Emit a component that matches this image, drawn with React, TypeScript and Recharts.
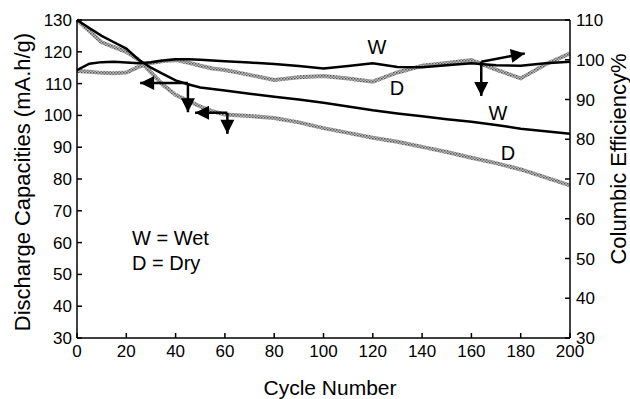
import { LineChart, Line, XAxis, YAxis, ReferenceLine, ReferenceDot } from 'recharts'

// ciclos e leituras (estimadas do gráfico original)
const cycles = [0, 5, 10, 15, 20, 25, 30, 35, 40, 45, 50, 55, 60, 70, 80, 90, 100, 110, 120, 130, 140, 150, 160, 170, 180, 190, 200]
const wetCapacity = [130, 127.5, 125, 123, 121, 117.5, 115, 113, 111, 109.8, 108.8, 108.3, 107.8, 106.8, 105.9, 105, 104, 102.8, 101.6, 100.6, 99.7, 98.8, 98, 97, 95.8, 95, 94.2]
const dryCapacity = [130, 126.5, 123, 121.5, 120, 117.5, 113.5, 109.5, 106.5, 104.6, 102.8, 101.3, 100.3, 99.8, 99.2, 97.8, 96, 94.5, 93, 91.7, 90.1, 88.5, 86.7, 85, 83, 80.5, 78]
const wetEfficiency = [97.4, 99, 99.4, 99.5, 99.3, 99.1, 99.4, 99.8, 100.1, 100.1, 100, 99.8, 99.6, 99.3, 98.9, 98.4, 97.8, 98.4, 99.1, 98.2, 98.1, 98.6, 99.1, 98.6, 98.5, 99.1, 99.5]
const dryEfficiency = [97.2, 97, 96.7, 96.6, 96.8, 98.2, 99.2, 99.7, 99.9, 99.3, 98.5, 97.8, 97.4, 96.2, 94.9, 95.6, 95.9, 95.3, 94.5, 96.8, 98.5, 99.2, 99.9, 97.5, 95.3, 98.8, 101.6]

const xTicks = [0, 20, 40, 60, 80, 100, 120, 140, 160, 180, 200]
const capTicks = [30, 40, 50, 60, 70, 80, 90, 100, 110, 120, 130]
const effTicks = [30, 40, 50, 60, 70, 80, 90, 100, 110]

const data = cycles.map((c, i) => ({
  cycle: c,
  wetCap: wetCapacity[i],
  dryCap: dryCapacity[i],
  wetEff: wetEfficiency[i],
  dryEff: dryEfficiency[i],
}))

const FONT = '"Liberation Sans", Arial, sans-serif'
const tick = { fill: '#000', fontSize: 17, fontFamily: FONT }

// ponta de seta: aponta pra direção dada (graus, 0 = direita)
const head = (ang: number) => (p: any) => (
  <polygon
    points="0,0 -14,-7 -14,7"
    fill="#000"
    transform={`translate(${p.cx},${p.cy}) rotate(${ang})`}
  />
)

const txt = (left: number, top: number, size: number): React.CSSProperties => ({
  position: 'absolute', left, top, fontSize: size, fontFamily: FONT, color: '#000',
  lineHeight: 1, whiteSpace: 'nowrap', transform: 'translate(-50%, -50%)',
})

export default function App() {
  return (
    <div style={{ position: 'absolute', left: 0, top: 0, width: 630, height: 399, background: '#fff', overflow: 'hidden' }}>
      <style>{'body{margin:0}'}</style>
      <LineChart width={630} height={399} data={data} margin={{ top: 20, right: 0, bottom: 31, left: 0 }}>
        <defs>
          <pattern id="grayTex" width="3" height="3" patternUnits="userSpaceOnUse">
            <rect width="3" height="3" fill="#bcbcbc" />
            <rect width="1.5" height="1.5" fill="#5a5a5a" />
            <rect x="1.5" y="1.5" width="1.5" height="1.5" fill="#7a7a7a" />
          </pattern>
        </defs>
        <XAxis
          dataKey="cycle" type="number" domain={[0, 200]} ticks={xTicks} interval={0}
          tickSize={-5} tickMargin={12} height={30} stroke="#000" strokeWidth={1.5} tick={tick}
        />
        <YAxis
          yAxisId="cap" domain={[30, 130]} ticks={capTicks} interval={0} width={77}
          tickSize={-5} tickMargin={10} stroke="#000" strokeWidth={1.5} tick={tick}
        />
        <YAxis
          yAxisId="eff" orientation="right" domain={[30, 110]} ticks={effTicks} interval={0} width={60}
          tickSize={-5} tickMargin={11} stroke="#000" strokeWidth={1.5} tick={tick}
        />
        <ReferenceLine yAxisId="cap" y={130} stroke="#000" strokeWidth={1.5} />

        <Line yAxisId="eff" dataKey="dryEff" stroke="url(#grayTex)" strokeWidth={4} dot={false} isAnimationActive={false} />
        <Line yAxisId="cap" dataKey="dryCap" stroke="url(#grayTex)" strokeWidth={4} dot={false} isAnimationActive={false} />
        <Line yAxisId="eff" dataKey="wetEff" stroke="#000" strokeWidth={2.5} dot={false} isAnimationActive={false} />
        <Line yAxisId="cap" dataKey="wetCap" stroke="#000" strokeWidth={2.5} dot={false} isAnimationActive={false} />

        {/* seta W (capacidade) */}
        <ReferenceLine yAxisId="cap" segment={[{ x: 45, y: 110.2 }, { x: 25.6, y: 110.2 }]} stroke="#000" strokeWidth={2.5} />
        <ReferenceLine yAxisId="cap" segment={[{ x: 45, y: 110.2 }, { x: 45, y: 101 }]} stroke="#000" strokeWidth={2.5} />
        <ReferenceDot yAxisId="cap" x={25.6} y={110.2} r={1} shape={head(180)} />
        <ReferenceDot yAxisId="cap" x={45} y={101} r={1} shape={head(90)} />
        {/* seta D (capacidade) */}
        <ReferenceLine yAxisId="cap" segment={[{ x: 61, y: 100.8 }, { x: 47.9, y: 100.8 }]} stroke="#000" strokeWidth={2.5} />
        <ReferenceLine yAxisId="cap" segment={[{ x: 61, y: 100.8 }, { x: 61, y: 94.2 }]} stroke="#000" strokeWidth={2.5} />
        <ReferenceDot yAxisId="cap" x={47.9} y={100.8} r={1} shape={head(180)} />
        <ReferenceDot yAxisId="cap" x={61} y={94.2} r={1} shape={head(90)} />
        {/* seta eficiência */}
        <ReferenceLine yAxisId="eff" segment={[{ x: 164, y: 99.5 }, { x: 181.7, y: 101.6 }]} stroke="#000" strokeWidth={2.5} />
        <ReferenceLine yAxisId="eff" segment={[{ x: 164, y: 99.5 }, { x: 164, y: 90.9 }]} stroke="#000" strokeWidth={2.5} />
        <ReferenceDot yAxisId="eff" x={181.7} y={101.6} r={1} shape={head(-10)} />
        <ReferenceDot yAxisId="eff" x={164} y={90.9} r={1} shape={head(90)} />
      </LineChart>

      <div style={txt(377, 47, 20)}>W</div>
      <div style={txt(397, 88, 20)}>D</div>
      <div style={txt(498, 113, 20)}>W</div>
      <div style={txt(508, 153, 20)}>D</div>
      <div style={{ ...txt(132, 238, 20), transform: 'translate(0, -50%)' }}>W = Wet</div>
      <div style={{ ...txt(132, 263, 20), transform: 'translate(0, -50%)' }}>D = Dry</div>

      <div style={txt(330, 387, 21)}>Cycle Number</div>
      <div style={{ ...txt(23, 182, 22), transform: 'translate(-50%, -50%) rotate(-90deg)' }}>Discharge Capacities (mA.h/g)</div>
      <div style={{ ...txt(619, 159, 22), transform: 'translate(-50%, -50%) rotate(-90deg)' }}>Columbic Efficiency%</div>
    </div>
  )
}
